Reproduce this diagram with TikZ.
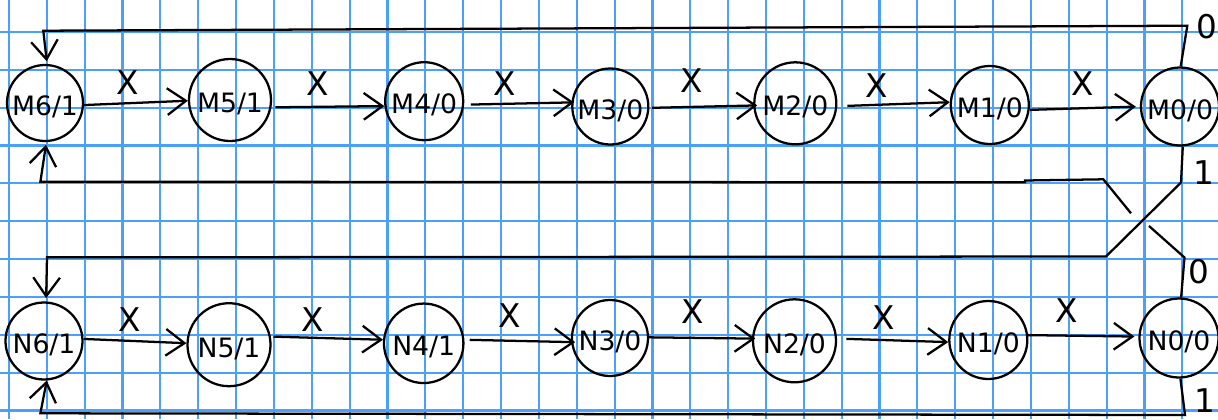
\documentclass[tikz,border=0pt]{standalone}
\usepackage{fontspec}
\setmainfont{DejaVu Sans}
\usetikzlibrary{arrows.meta}
\definecolor{gridblue}{RGB}{75,160,250}
\begin{document}
\begin{tikzpicture}[x=0.75pt,y=-0.75pt,
  state/.style={circle,draw,line width=1.7pt,inner sep=0pt,
    font=\fontsize{20}{21}\selectfont,text height=19pt,text depth=0pt},
  trans/.style={line width=1.7pt,-{Straight Barb[length=14pt,width=20pt]}},
  sym/.style={inner sep=0pt,font=\fontsize{24.5}{26}\selectfont},
  gridline/.style={gridblue,line width=1.6pt}]
\useasboundingbox (0,0) rectangle (1218,419);
\fill[white] (0,0) rectangle (1218,419);

% squared paper
\foreach \k in {0,...,31} \draw[gridline] ({9+37.85*\k},0) -- ({9+37.85*\k},419);
\foreach \k in {0,...,10} \draw[gridline] (0,{32+37.85*\k}) -- (1218,{32+37.85*\k});

% upper chain of states
\node[state,minimum size=57pt]   (m6) at (45,103)      {M6/1};
\node[state,minimum size=61.5pt] (m5) at (230,100)     {M5/1};
\node[state,minimum size=58.5pt] (m4) at (424.2,101.2) {M4/0};
\node[state,minimum size=57pt]   (m3) at (610.3,106.5) {M3/0};
\node[state,minimum size=61.5pt] (m2) at (795.3,103.3) {M2/0};
\node[state,minimum size=58.5pt] (m1) at (989.8,105)   {M1/0};
\node[state,minimum size=58.5pt] (m0) at (1180,106.5)  {M0/0};

% lower chain of states
\node[state,minimum size=57.75pt] (n6) at (44,341)      {N6/1};
\node[state,minimum size=62.25pt] (n5) at (229,344.7)   {N5/1};
\node[state,minimum size=59.6pt]  (n4) at (423.7,343.3) {N4/1};
\node[state,minimum size=57pt]    (n3) at (610,338)     {N3/0};
\node[state,minimum size=62.25pt] (n2) at (794.5,340.8) {N2/0};
\node[state,minimum size=58.5pt]  (n1) at (988.3,340)   {N1/0};
\node[state,minimum size=59.25pt] (n0) at (1179,338)    {N0/0};

% X transitions along the upper chain
\draw[trans] (m6.-3) -- (m5.181);
\draw[trans,shorten <=3pt] (m5.-10) -- (m4.187);
\draw[trans,shorten <=5pt,shorten >=-2pt] (m4.-5) -- (m3.174);
\draw[trans,shorten <=2pt,shorten >=-3pt] (m3.-2) -- (m2.183);
\draw[trans,shorten <=7.5pt] (m2.-4) -- (m1.176);
\draw[trans,shorten >=3pt] (m1.-7) -- (m0.180);

% X transitions along the lower chain
\draw[trans] (n6.3) -- (n5.178);
\draw[trans,shorten <=2pt] (n5.11) -- (n4.175);
\draw[trans,shorten <=4pt,shorten >=-3pt] (n4.5) -- (n3.186);
\draw[trans,shorten >=-2.5pt] (n3.1) -- (n2.177);
\draw[trans,shorten <=7pt] (n2.3.5) -- (n1.183);
\draw[trans,shorten >=3pt] (n1.7) -- (n0.178);

\node[sym] (xm1) at (127.7,82.7)  {X};
\node[sym] (xm2) at (317.3,83.3)  {X};
\node[sym] (xm3) at (504.3,84)    {X};
\node[sym] (xm4) at (691.7,80.7)  {X};
\node[sym] (xm5) at (876.7,85.7)  {X};
\node[sym] (xm6) at (1082.7,83.3) {X};

\node[sym] (xn1) at (130,320)     {X};
\node[sym] (xn2) at (312.7,319.3) {X};
\node[sym] (xn3) at (510,316)     {X};
\node[sym] (xn4) at (693,312)     {X};
\node[sym] (xn5) at (884,317.3)   {X};
\node[sym] (xn6) at (1066.7,311)  {X};

% corners of the feedback lines
\coordinate (t1) at (1187.3,25.7);
\coordinate (t2) at (43.3,30.7);
\coordinate (u1) at (1181,182.5);
\coordinate (u2) at (1106,256.5);
\coordinate (u3) at (47,257.3);
\coordinate (v1) at (1184.5,257.5);
\coordinate (v2) at (1149,226);
\coordinate (v3) at (1131,213.3);
\coordinate (v4) at (1103.3,179.3);
\coordinate (v5) at (1025,180.5);
\coordinate (v6) at (1025,182.3);
\coordinate (v7) at (40.4,181.7);
\coordinate (w1) at (1185,415);
\coordinate (w2) at (40.4,413.3);

% feedback: M0 on 0 and 1, N0 on 0 and 1
\draw[trans,shorten >=2pt] (m0.89) -- (t1) -- (t2) -- (m6.87);
\draw[trans,shorten >=2.5pt] (m0.-86) -- (u1) -- (u2) -- (u3) -- (n6.87);
\draw[trans,shorten >=2pt] (n0.87) -- (v1) -- (v2) (v3) -- (v4) -- (v5) -- (v6) -- (v7) -- (m6.-88);
\draw[trans] (n0.-88) -- (w1) -- (w2) -- (n6.-86);

\node[sym] (lm0) at (1206.7,26.7) {0};
\node[sym] (lm1) at (1204,173)    {1};
\node[sym] (ln0) at (1199,271.7)  {0};
\node[sym] (ln1) at (1205,401)    {1};
\end{tikzpicture}
\end{document}
